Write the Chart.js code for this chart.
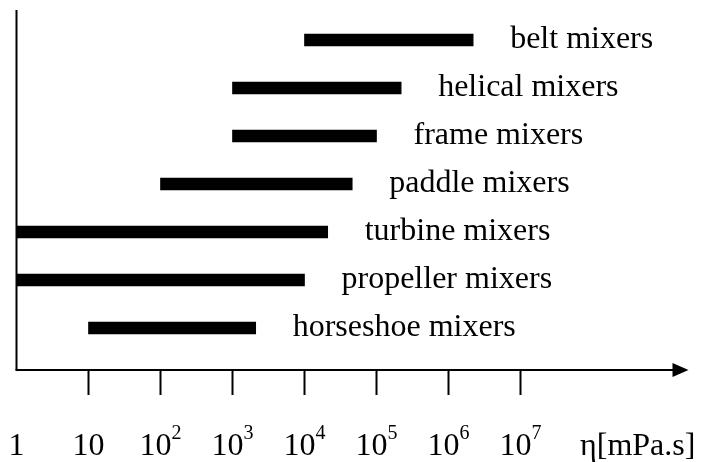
<!DOCTYPE html>
<html lang="en">
<head>
  <meta charset="UTF-8">
  <title>Mixer types by viscosity range</title>
  <style>
    * { margin: 0; padding: 0; box-sizing: border-box; }
    body { background: #fff; }
    #chart { display: block; }
  </style>
</head>
<body>
  <canvas id="chart" width="701" height="462"></canvas>

  <script src="https://cdn.jsdelivr.net/npm/chart.js@4.4.1/dist/chart.umd.min.js"></script>
  <script>
    // mixer types, bottom row first
    const mixers = ['horseshoe mixers', 'propeller mixers', 'turbine mixers', 'paddle mixers',
      'frame mixers', 'helical mixers', 'belt mixers'];
    // usable viscosity range of each mixer, mPa.s
    const viscMin = [10, 1, 1, 100, 1000, 1000, 10000];
    const viscMax = [2100, 10000, 21000, 46000, 100000, 220000, 2200000];

    // x axis ticks: value, base text, exponent text
    const tickValues = [1, 10, 1e2, 1e3, 1e4, 1e5, 1e6, 1e7];
    const tickBase = ['1', '10', '10', '10', '10', '10', '10', '10'];
    const tickExp = ['', '', '2', '3', '4', '5', '6', '7'];
    const axisTitle = 'η[mPa.s]';

    const serif = '"Liberation Serif", "Times New Roman", serif';

    // axes with arrow, tick marks, power-of-ten labels and the mixer names
    const decorations = {
      id: 'decorations',
      afterDatasetsDraw(chart) {
        const {ctx, chartArea: area, scales: {x, y}} = chart;
        ctx.save();
        ctx.strokeStyle = '#000';
        ctx.fillStyle = '#000';
        ctx.lineWidth = 2;

        // y axis
        ctx.beginPath();
        ctx.moveTo(area.left, area.top);
        ctx.lineTo(area.left, area.bottom);
        ctx.stroke();

        // x axis with arrow head
        const tip = area.right + 24;
        ctx.beginPath();
        ctx.moveTo(area.left - 1, area.bottom);
        ctx.lineTo(tip - 14, area.bottom);
        ctx.stroke();
        ctx.beginPath();
        ctx.moveTo(tip, area.bottom);
        ctx.lineTo(tip - 16, area.bottom - 7);
        ctx.lineTo(tip - 16, area.bottom + 7);
        ctx.closePath();
        ctx.fill();

        // tick marks and labels
        ctx.textBaseline = 'alphabetic';
        const labelY = area.bottom + 85;
        tickValues.forEach((v, i) => {
          const px = x.getPixelForValue(v);
          if (v > 1) {
            ctx.beginPath();
            ctx.moveTo(px, area.bottom);
            ctx.lineTo(px, area.bottom + 25);
            ctx.stroke();
          }
          ctx.font = '32px ' + serif;
          const bw = ctx.measureText(tickBase[i]).width;
          ctx.font = '20px ' + serif;
          const ew = tickExp[i] ? ctx.measureText(tickExp[i]).width : 0;
          const start = px - (bw + ew) / 2;
          ctx.textAlign = 'left';
          ctx.font = '32px ' + serif;
          ctx.fillText(tickBase[i], start, labelY);
          if (ew) {
            ctx.font = '20px ' + serif;
            ctx.fillText(tickExp[i], start + bw, labelY - 16);
          }
        });

        ctx.font = '32px ' + serif;
        ctx.fillText(axisTitle, 580, labelY);

        // mixer names to the right of each bar
        mixers.forEach((name, i) => {
          const px = x.getPixelForValue(viscMax[i]);
          const py = y.getPixelForValue(i);
          ctx.fillText(name, px + 37, py + 8);
        });

        ctx.restore();
      }
    };

    new Chart(document.getElementById('chart'), {
      type: 'bar',
      data: {
        datasets: [{
          data: mixers.map((_, i) => ({x: [viscMin[i], viscMax[i]], y: i})),
          backgroundColor: '#000',
          borderWidth: 0,
          barThickness: 12
        }]
      },
      options: {
        indexAxis: 'y',
        responsive: false,
        animation: false,
        devicePixelRatio: 1,
        layout: {padding: {left: 16.5, top: 10, right: 36.5, bottom: 92}},
        plugins: {legend: {display: false}, tooltip: {enabled: false}},
        scales: {
          x: {type: 'logarithmic', min: 1, max: 1e9, display: false},
          y: {type: 'linear', min: -0.875, max: 6.625, offset: false, display: false}
        }
      },
      plugins: [decorations]
    });
  </script>
</body>
</html>
